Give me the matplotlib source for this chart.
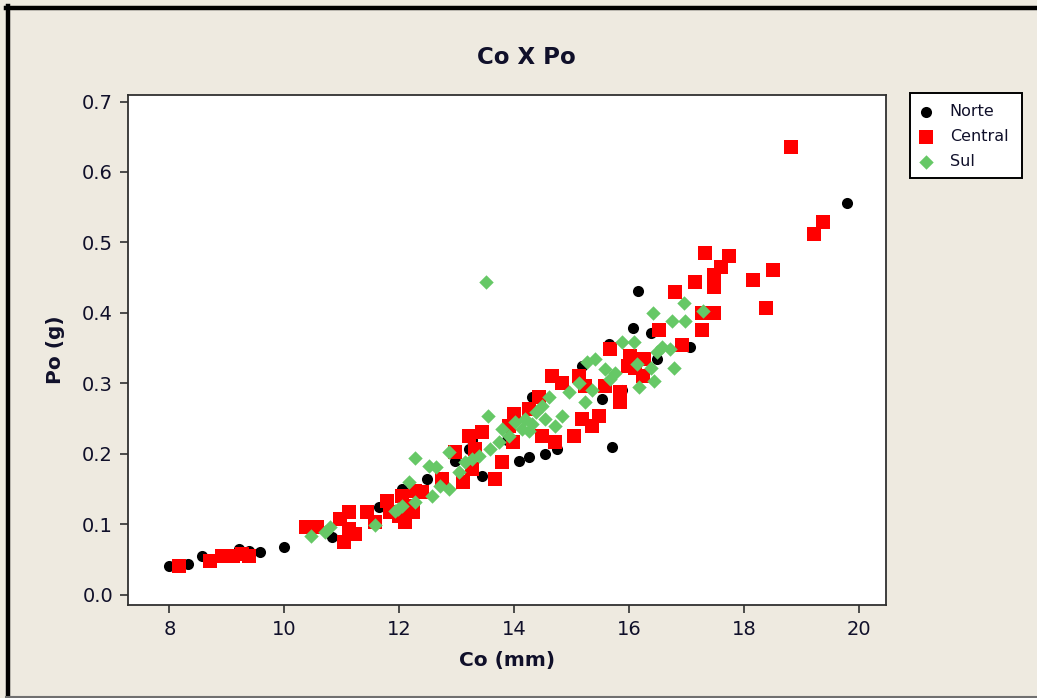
import matplotlib
matplotlib.use("Agg")
import matplotlib.pyplot as plt
from matplotlib.lines import Line2D
from matplotlib.patches import Rectangle

# ---- data (Co in mm, Po in g) ----
norte_co = [8.00, 8.33, 8.57, 9.22, 9.39, 9.58, 10.00, 10.83, 11.65, 12.02, 12.05, 11.83,
            12.49, 13.22, 13.44, 14.26, 14.09, 14.54, 14.75, 14.30, 15.70, 15.18, 15.65,
            16.16, 16.07, 16.38, 17.06, 19.79, 13.27, 12.96, 12.75, 13.88, 15.53, 15.88, 16.49]
norte_po = [0.041, 0.044, 0.055, 0.065, 0.062, 0.061, 0.068, 0.082, 0.124, 0.144, 0.150, 0.117,
            0.164, 0.207, 0.168, 0.195, 0.190, 0.199, 0.207, 0.281, 0.209, 0.324, 0.356,
            0.431, 0.378, 0.371, 0.352, 0.556, 0.220, 0.190, 0.167, 0.220, 0.277, 0.291, 0.334]

central_co = [8.17, 8.70, 8.92, 9.10, 9.27, 9.39, 10.37, 10.57, 10.97, 11.13, 11.13, 11.04,
              11.23, 11.44, 11.58, 11.79, 11.83, 12.10, 12.14, 12.28, 12.23, 12.00, 12.05,
              12.40, 12.75, 13.10, 13.27, 13.67, 12.96, 13.22, 13.32, 13.44, 13.79, 13.97,
              13.91, 14.00, 14.26, 14.43, 14.49, 14.71, 15.04, 15.36, 15.18, 15.48, 15.83,
              15.84, 15.58, 15.23, 15.13, 14.83, 14.66, 16.23, 15.97, 16.26, 16.02, 15.67,
              16.92, 16.52, 17.27, 17.27, 17.48, 16.80, 17.15, 17.48, 17.48, 17.60, 17.32,
              17.74, 18.16, 18.50, 18.37, 18.82, 19.22, 19.37, 16.10]
central_po = [0.040, 0.047, 0.055, 0.055, 0.058, 0.055, 0.096, 0.096, 0.107, 0.117, 0.093, 0.075,
              0.086, 0.117, 0.103, 0.133, 0.117, 0.103, 0.126, 0.147, 0.117, 0.112, 0.140,
              0.146, 0.164, 0.160, 0.178, 0.164, 0.202, 0.225, 0.207, 0.231, 0.188, 0.216,
              0.239, 0.256, 0.263, 0.281, 0.225, 0.216, 0.225, 0.239, 0.249, 0.253, 0.273,
              0.287, 0.296, 0.296, 0.310, 0.301, 0.310, 0.310, 0.324, 0.334, 0.338, 0.348,
              0.355, 0.376, 0.376, 0.400, 0.400, 0.430, 0.444, 0.437, 0.453, 0.465, 0.485,
              0.481, 0.446, 0.461, 0.407, 0.636, 0.512, 0.529, 0.322]

sul_co = [10.47, 10.71, 10.80, 11.57, 11.93, 11.97, 12.05, 12.28, 12.17, 12.28, 12.57, 12.70,
          12.87, 13.04, 12.52, 12.63, 12.87, 13.15, 13.39, 13.57, 13.74, 13.55, 13.91, 14.02,
          14.14, 14.19, 14.54, 14.71, 14.83, 14.37, 14.49, 14.61, 15.23, 15.36, 14.96, 15.13,
          15.67, 15.76, 15.57, 15.27, 15.41, 15.88, 16.09, 16.14, 16.37, 16.78, 16.43, 16.17,
          16.57, 16.70, 16.49, 16.75, 16.97, 16.42, 16.96, 17.29, 13.51, 13.27, 13.79, 14.26, 14.31]
sul_po = [0.083, 0.089, 0.096, 0.099, 0.119, 0.122, 0.126, 0.132, 0.160, 0.194, 0.140, 0.154,
          0.150, 0.174, 0.182, 0.181, 0.202, 0.188, 0.197, 0.207, 0.216, 0.253, 0.225, 0.245,
          0.235, 0.249, 0.249, 0.239, 0.253, 0.259, 0.267, 0.281, 0.273, 0.291, 0.287, 0.301,
          0.306, 0.315, 0.320, 0.330, 0.334, 0.358, 0.359, 0.327, 0.322, 0.322, 0.303, 0.294,
          0.352, 0.348, 0.345, 0.389, 0.388, 0.400, 0.414, 0.403, 0.444, 0.192, 0.235, 0.232, 0.242]

series_names = ["Norte", "Central", "Sul"]
x_ticks = [8, 10, 12, 14, 16, 18, 20]
y_ticks = [0.0, 0.1, 0.2, 0.3, 0.4, 0.5, 0.6, 0.7]

BG = "#eeeae0"
TXT = "#10102a"

plt.rcParams['font.family'] = ['DejaVu Sans']

W, H = 1037, 698
fig = plt.figure(figsize=(W / 100, H / 100), dpi=100, facecolor=BG)

# outer frame lines
fig.add_artist(Line2D([7.5 / W, 7.5 / W], [0, 1 - 6 / H], transform=fig.transFigure,
                      color="black", lw=3.2))
fig.add_artist(Line2D([6 / W, 1], [1 - 7.5 / H, 1 - 7.5 / H], transform=fig.transFigure,
                      color="black", lw=3.2))
fig.add_artist(Line2D([6 / W, 1], [1.2 / H, 1.2 / H], transform=fig.transFigure,
                      color="#707070", lw=1.5))

left, right, top, bottom = 127.7, 886.3, 95.0, 604.5
ax = fig.add_axes([left / W, 1 - bottom / H, (right - left) / W, (bottom - top) / H])
ax.set_facecolor("white")

ax.scatter(norte_co, norte_po, s=64, marker="o", color="black", linewidths=0, label=series_names[0], zorder=3)
ax.scatter(central_co, central_po, s=92, marker="s", color="#ff0000", linewidths=0, label=series_names[1], zorder=4)
ax.scatter(sul_co, sul_po, s=54, marker="D", color="#66c866", linewidths=0, label=series_names[2], zorder=5)

ax.set_xlim(7.276, 20.47)
ax.set_ylim(-0.0142, 0.7093)
ax.set_xticks(x_ticks)
ax.set_yticks(y_ticks)
ax.set_xticklabels([str(t) for t in x_ticks])
ax.set_yticklabels([f"{t:.1f}" for t in y_ticks])

for sp in ["top", "right", "left", "bottom"]:
    ax.spines[sp].set_color("#303030")
    ax.spines[sp].set_linewidth(1.3)
ax.tick_params(axis="both", direction="out", length=5.5, width=1.2, color="#303030",
               labelsize=14, labelcolor=TXT)
ax.tick_params(axis="x", pad=6)
ax.tick_params(axis="y", pad=5)
ax.tick_params(top=False, right=False)

ax.set_xlabel("Co (mm)", fontsize=14.5, fontweight="bold", color=TXT, labelpad=8)
ax.set_ylabel("Po (g)", fontsize=14.5, fontweight="bold", color=TXT, labelpad=12)
fig.text(526 / W, 1 - 58 / H, "Co X Po", ha="center", va="center",
         fontsize=16.5, fontweight="bold", color=TXT)

# legend box (drawn beneath the axes so the legend sits on top)
fig.add_artist(Rectangle((910 / W, 1 - 178 / H), 112 / W, 85 / H, transform=fig.transFigure,
                         facecolor="white", edgecolor="black", linewidth=1.4, zorder=-1))
leg = ax.legend(loc="upper left", bbox_to_anchor=(913 / W, 1 - 101 / H),
                bbox_transform=fig.transFigure, borderaxespad=0, frameon=False,
                fontsize=11.5, handletextpad=0.9, labelspacing=0.62,
                borderpad=0.2, handlelength=1.2, scatterpoints=1)
for t in leg.get_texts():
    t.set_color(TXT)

fig.savefig("out.png", dpi=100, facecolor=BG)
